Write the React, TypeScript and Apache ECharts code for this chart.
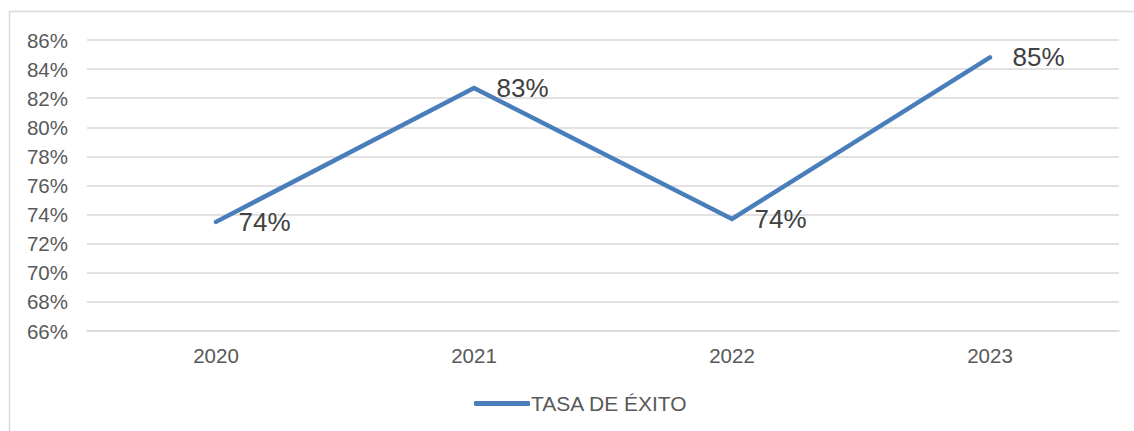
import React, { useEffect, useRef } from "react";
import * as echarts from "echarts";

const categories = ["2020", "2021", "2022", "2023"];
const successRate = [73.5, 82.7, 73.7, 84.8];
const seriesName = "TASA DE ÉXITO";

export default function App() {
  const ref = useRef<HTMLDivElement>(null);
  useEffect(() => {
    const chart = echarts.init(ref.current!, null, { renderer: "svg" });
    chart.setOption({
      animation: false,
      textStyle: { fontFamily: "Liberation Sans, Arial, sans-serif" },
      graphic: [
        {
          type: "rect",
          shape: { x: 9.5, y: 11.5, width: 1140, height: 440 },
          style: { fill: "none", stroke: "#d9d9d9", lineWidth: 1.5 },
          silent: true,
        },
      ],
      grid: { left: 87, right: 15, top: 40, bottom: 100 },
      xAxis: {
        type: "category",
        data: categories,
        boundaryGap: true,
        axisLine: { show: true, lineStyle: { color: "#d9d9d9", width: 1.5 } },
        axisTick: { show: false },
        axisLabel: { color: "#595959", fontSize: 20.5, margin: 14 },
      },
      yAxis: {
        type: "value",
        min: 66,
        max: 86,
        interval: 2,
        axisLine: { show: false },
        axisTick: { show: false },
        splitLine: { lineStyle: { color: "#d9d9d9", width: 1.5 } },
        axisLabel: {
          color: "#595959",
          fontSize: 20.5,
          margin: 19,
          formatter: (v: number) => `${Math.round(v)}%`,
        },
      },
      legend: {
        bottom: 12,
        left: 469,
        itemWidth: 56,
        itemHeight: 5,
        itemGap: 10,
        itemStyle: { color: "#4a7ebb", opacity: 1, borderWidth: 0 },
        textStyle: { color: "#595959", fontSize: 21, padding: [0, 0, 0, -4] },
        data: [{ name: seriesName, icon: "roundRect" }],
      },
      series: [
        {
          name: seriesName,
          type: "line",
          data: successRate,
          symbol: "circle",
          symbolSize: 1,
          showSymbol: true,
          lineStyle: { color: "#4a7ebb", width: 4.5, cap: "round", join: "miter" },
          itemStyle: { color: "rgba(74,126,187,0)", borderWidth: 0 },
          label: {
            show: true,
            position: "right",
            distance: 22,
            color: "#404040",
            fontSize: 26,
            formatter: (p: any) => `${Math.round(p.value)}%`,
          },
        },
      ],
    });
    return () => chart.dispose();
  }, []);
  return (
    <div
      ref={ref}
      style={{ position: "fixed", left: 0, top: 0, width: 1134, height: 431, background: "#fff" }}
    />
  );
}
